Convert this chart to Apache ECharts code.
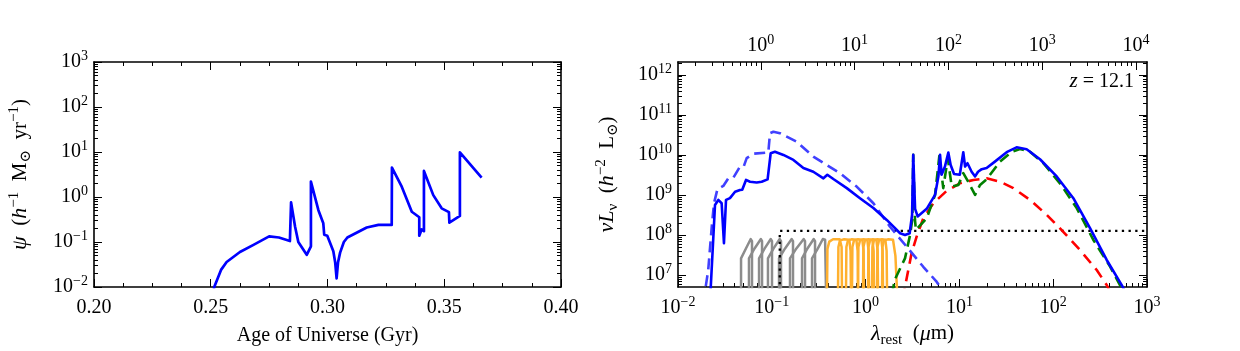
<!DOCTYPE html>
<html><head><meta charset="utf-8">
<script src="https://cdn.jsdelivr.net/npm/echarts@6/dist/echarts.min.js"></script>
<style>html,body{margin:0;padding:0;background:#fff}#c{width:1240px;height:351px}</style>
</head><body><div id="c"></div>
<script>
const FONT = '"Liberation Serif","DejaVu Serif",serif';

// ---------- Left panel: star formation history ----------
const sfrAge = [0.2505,0.2515,0.2544,0.2568,0.2625,0.2681,0.2750,0.2792,0.2839,0.2844,0.2861,0.2875,0.2911,0.2929,0.2929,0.2961,0.2982,0.2986,0.2999,0.3015,0.3025,0.3033,0.3039,0.3045,0.3054,0.3070,0.3085,0.3168,0.3218,0.3275,0.3276,0.3318,0.3361,0.3393,0.3393,0.3403,0.3413,0.3413,0.3453,0.3489,0.3520,0.3522,0.3567,0.3567,0.3660];
const sfrPsi = [0.005,0.010,0.024,0.036,0.060,0.085,0.133,0.126,0.105,0.76,0.22,0.10,0.052,0.080,2.2,0.51,0.26,0.145,0.138,0.085,0.062,0.035,0.0155,0.035,0.058,0.10,0.126,0.21,0.24,0.24,4.5,1.7,0.47,0.355,0.138,0.19,0.174,3.8,1.1,0.56,0.46,0.27,0.38,9.8,2.7];
const ageTicks = [0.20,0.25,0.30,0.35,0.40];
const psiTicks = [0.01,0.1,1,10,100,1000];

// ---------- Right panel: SED (rest wavelength um, nuLnu) ----------
const sedTotal = [[0.0219,2e6],[0.0248,5.6e8],[0.0269,7.5e8],[0.0292,6.2e8],[0.0309,6.2e7],[0.0325,7.5e8],[0.0358,8.3e8],[0.0406,1.2e9],[0.0458,1.33e9],[0.0484,1.35e9],[0.0531,2.37e9],[0.0586,2.14e9],[0.0690,2.04e9],[0.0780,2.14e9],[0.0902,2.45e9],[0.0973,1.1e10],[0.108,1.2e10],[0.133,1.0e10],[0.170,7.5e9],[0.217,4.7e9],[0.277,3.8e9],[0.355,2.6e9],[0.391,3.2e9],[0.453,2.5e9],[0.630,1.48e9],[0.871,8.3e8],[1.21,4.7e8],[1.68,2.37e8],[2.33,1.1e8],[2.63,1.0e8],[2.95,1.1e8],[3.13,3.2e8],[3.22,1.0e10],[3.37,4.5e8],[3.59,2.9e8],[4.48,4.5e8],[5.5,1.0e9],[5.97,2.9e9],[6.22,1.0e10],[6.46,3.2e9],[7.01,5.1e9],[7.62,1.15e10],[8.07,5.6e9],[8.77,3.35e9],[10.1,3.2e9],[11.0,1.17e10],[11.5,5.1e9],[12.2,6.2e9],[13.5,3.8e9],[14.7,2.9e9],[15.8,3.8e9],[17.3,4.4e9],[19.5,4.7e9],[23.9,6.8e9],[31.9,1.17e10],[40.7,1.55e10],[52.1,1.38e10],[72.3,7.8e9],[109,2.9e9],[164,8.3e8],[247,1.48e8],[372,2.37e7],[550,5.1e6],[631,2.5e6]];
const sedIntrinsic = [[0.0186,2e6],[0.0210,1.33e7],[0.0229,1.6e8],[0.0242,6.2e8],[0.0263,1.38e9],[0.0304,1.68e9],[0.0344,2.6e9],[0.0389,2.7e9],[0.0458,5.1e9],[0.0501,5.1e9],[0.0540,8.3e9],[0.0635,1.07e10],[0.0918,1.15e10],[0.0957,3.5e10],[0.104,3.8e10],[0.122,3.5e10],[0.184,2.14e10],[0.277,9.1e9],[0.385,5.6e9],[0.533,3.5e9],[0.803,1.62e9],[1.21,6.2e8],[1.82,1.6e8],[2.74,5.1e7],[4.12,1.6e7],[5.71,6.8e6],[7.08,3.2e6]];
const sedDust = [[1.91,3.2e6],[2.04,7.5e6],[2.63,2.6e7],[2.98,1.0e8],[3.15,2.5e8],[3.22,1.0e10],[3.36,2.37e8],[3.44,1.33e8],[4.48,2.6e8],[5.5,1.0e9],[6.11,9.4e9],[6.73,1.48e9],[7.52,8.3e9],[8.28,1.62e9],[9.75,1.78e9],[11.0,3.5e9],[12.4,2.14e9],[14.7,1.0e9],[16.6,1.78e9],[19.5,2.45e9],[27.1,6.8e9],[36.1,1.2e10],[44.3,1.41e10],[56.6,1.2e10],[78.5,6.2e9],[118,1.95e9],[178,4.7e8],[268,7.5e7],[404,1.62e7],[525,5.1e6],[603,2.5e6]];
const sedWarm = [[2.51,2.5e6],[2.63,5e6],[3.09,3.5e7],[3.50,9.1e7],[4.12,2.6e8],[5.27,6.2e8],[7.31,1.26e9],[10.1,1.95e9],[14.1,2.37e9],[19.5,2.6e9],[27.1,2.14e9],[37.6,1.48e9],[56.6,7.5e8],[85.1,3.2e8],[128,1.2e8],[193,4.2e7],[291,1.33e7],[372,5.6e6],[417,3.2e6]];
const limitLine = [[0.1216,4e6],[0.1216,1.26e8],[1000,1.26e8]];
const grayFilters = [
 [[0.0470,4e6],[0.0470,2.6e7],[0.0530,4.6e7],[0.0596,7.9e7],[0.0615,7.0e7],[0.0615,4e6]],
 [[0.0571,4e6],[0.0571,2.6e7],[0.0655,4.6e7],[0.0765,7.9e7],[0.0787,7.0e7],[0.0787,4e6]],
 [[0.0731,4e6],[0.0731,2.6e7],[0.0840,4.6e7],[0.0975,7.9e7],[0.1005,7.0e7],[0.1005,4e6]],
 [[0.0910,4e6],[0.0910,2.6e7],[0.1045,4.6e7],[0.1215,7.9e7],[0.1253,7.0e7],[0.1253,4e6]],
 [[0.1194,4e6],[0.1194,2.6e7],[0.1385,4.6e7],[0.1630,7.9e7],[0.1683,7.0e7],[0.1683,4e6]],
 [[0.1563,4e6],[0.1563,2.6e7],[0.1830,4.6e7],[0.2190,7.9e7],[0.2260,7.0e7],[0.2260,4e6]],
 [[0.2100,4e6],[0.2100,2.6e7],[0.2400,4.6e7],[0.2800,7.9e7],[0.2890,7.0e7],[0.2890,4e6]],
 [[0.2685,4e6],[0.2685,2.6e7],[0.3100,4.6e7],[0.3500,7.9e7],[0.3700,7.6e7],[0.3786,4e6]]
];
const orangeFilters = [
 [[0.388,4e6],[0.392,4.5e7],[0.410,6.8e7],[0.450,7.8e7],[0.530,7.8e7],[0.555,5e7],[0.560,4e6]],
 [[0.508,4e6],[0.513,5e7],[0.533,7.3e7],[0.590,7.8e7],[0.670,7.6e7],[0.691,4e7],[0.698,4e6]],
 [[0.618,4e6],[0.624,5e7],[0.649,7.3e7],[0.715,7.8e7],[0.797,7.6e7],[0.822,4e7],[0.830,4e6]],
 [[0.716,4e6],[0.723,5e7],[0.752,7.3e7],[0.830,7.8e7],[0.923,7.6e7],[0.952,4e7],[0.962,4e6]],
 [[0.830,4e6],[0.838,5e7],[0.872,7.3e7],[0.950,7.8e7],[1.043,7.6e7],[1.076,4e7],[1.087,4e6]],
 [[0.938,4e6],[0.947,5e7],[0.985,7.3e7],[1.075,7.8e7],[1.180,7.6e7],[1.218,4e7],[1.230,4e6]],
 [[1.062,4e6],[1.073,5e7],[1.115,7.3e7],[1.200,7.8e7],[1.303,7.6e7],[1.343,4e7],[1.357,4e6]],
 [[1.170,4e6],[1.182,5e7],[1.228,7.3e7],[1.340,7.8e7],[1.473,7.6e7],[1.519,4e7],[1.534,4e6]],
 [[1.324,4e6],[1.337,5e7],[1.390,7.3e7],[1.500,7.8e7],[1.624,7.6e7],[1.675,4e7],[1.692,4e6]],
 [[1.497,4e6],[1.512,5e7],[1.572,7.3e7],[1.750,7.8e7],[1.960,7.6e7],[2.080,3e7],[2.163,4e6]]
];
const lamTicks = [0.01,0.1,1,10,100,1000];
const obsTicks = [1,10,100,1000,10000];
const lumTicks = [1e7,1e8,1e9,1e10,1e11,1e12];
const redshift = 12.1;

// ---------- helpers ----------
function minors(lo, hi) {
  const out = [];
  for (let e = -3; e <= 13; e++) for (let m = 2; m <= 9; m++) {
    const v = m * Math.pow(10, e);
    if (v > lo && v < hi) out.push(v);
  }
  return out;
}
function powLabel(v) {
  const e = Math.round(Math.log10(v));
  return '{b|10}{s|' + (e < 0 ? '\u2212' + (-e) : String(e)) + '}';
}
const labRich = {
  b: {fontSize: 20, fontFamily: FONT, lineHeight: 26, color: '#000'},
  s: {fontSize: 14, fontFamily: FONT, lineHeight: 8, verticalAlign: 'top', color: '#000'}
};
const nameRich = {
  r: {fontSize: 21, fontFamily: FONT, lineHeight: 27, color: '#000'},
  i: {fontSize: 22, fontFamily: FONT, fontStyle: 'italic', lineHeight: 27, color: '#000'},
  sup: {fontSize: 15, fontFamily: FONT, lineHeight: 8, verticalAlign: 'top', color: '#000'},
  sub: {fontSize: 15, fontFamily: FONT, lineHeight: 15, verticalAlign: 'bottom', color: '#000'}
};
const zRich = {
  r: {fontSize: 20, fontFamily: FONT, lineHeight: 26, color: '#000'},
  i: {fontSize: 21, fontFamily: FONT, fontStyle: 'italic', lineHeight: 26, color: '#000'}
};
const SPINE = {show: true, onZero: false, lineStyle: {color: '#000', width: 1.6}};
const TICK = {color: '#000', width: 1};
function axis(o) {
  return Object.assign({
    splitLine: {show: false},
    axisLine: {show: false},
    axisLabel: {show: false},
    axisTick: {show: false}
  }, o);
}

const L = {min: 0.2, max: 0.4};
const Ly = {min: 0.01, max: 1000};
const Rx = {min: 0.01, max: 1000};
const Rt = {min: 0.01 * (1 + redshift), max: 1000 * (1 + redshift)};
const Ry = {min: 5e6, max: 2.1e12};

const xAxes = [
  axis({gridIndex: 0, type: 'value', position: 'bottom', min: L.min, max: L.max, interval: 0.05,
    axisLine: SPINE,
    axisTick: {show: true, inside: true, length: 8, lineStyle: TICK},
    minorTick: {show: true, splitNumber: 4, length: 4, lineStyle: TICK},
    axisLabel: {show: true, margin: 8, fontSize: 20, fontFamily: FONT, color: '#000', lineHeight: 26,
      customValues: ageTicks, formatter: v => v.toFixed(2)},
    name: 'Age of Universe (Gyr)', nameLocation: 'middle', nameGap: 34,
    nameTextStyle: {fontSize: 20, fontFamily: FONT, color: '#000'}}),
  axis({gridIndex: 0, type: 'value', position: 'top', min: L.min, max: L.max, interval: 0.05,
    axisLine: SPINE,
    axisTick: {show: true, inside: true, length: 8, lineStyle: TICK},
    minorTick: {show: true, splitNumber: 4, length: 4, lineStyle: TICK}}),
  axis({gridIndex: 1, type: 'log', position: 'bottom', min: Rx.min, max: Rx.max,
    axisLine: SPINE,
    axisTick: {show: true, inside: true, length: 8, lineStyle: TICK, customValues: lamTicks},
    axisLabel: {show: true, margin: 8, customValues: lamTicks, formatter: powLabel, rich: labRich},
    name: '{i|λ}{sub|rest}{r|  (}{i|μ}{r|m)}', nameLocation: 'middle', nameGap: 31,
    nameTextStyle: {rich: nameRich}}),
  axis({gridIndex: 1, type: 'log', position: 'bottom', min: Rx.min, max: Rx.max,
    axisTick: {show: true, inside: true, length: 4, lineStyle: TICK, customValues: minors(Rx.min, Rx.max)}}),
  axis({gridIndex: 1, type: 'log', position: 'top', min: Rt.min, max: Rt.max,
    axisLine: SPINE,
    axisTick: {show: true, inside: true, length: 8, lineStyle: TICK, customValues: obsTicks},
    axisLabel: {show: true, margin: 3, customValues: obsTicks, formatter: powLabel, rich: labRich}}),
  axis({gridIndex: 1, type: 'log', position: 'top', min: Rt.min, max: Rt.max,
    axisTick: {show: true, inside: true, length: 4, lineStyle: TICK, customValues: minors(Rt.min, Rt.max)}})
];

const yAxes = [
  axis({gridIndex: 0, type: 'log', position: 'left', min: Ly.min, max: Ly.max,
    axisLine: SPINE,
    axisTick: {show: true, inside: true, length: 8, lineStyle: TICK, customValues: psiTicks},
    axisLabel: {show: true, margin: 6, customValues: psiTicks, formatter: powLabel, rich: labRich},
    name: '{i|ψ}{r|  (}{i|h}{sup|\u22121}{r|  M}{sub|\u2299}{r|  yr}{sup|\u22121}{r|)}',
    nameLocation: 'middle', nameGap: 60, nameTextStyle: {rich: nameRich}}),
  axis({gridIndex: 0, type: 'log', position: 'left', min: Ly.min, max: Ly.max,
    axisTick: {show: true, inside: true, length: 4, lineStyle: TICK, customValues: minors(Ly.min, Ly.max)}}),
  axis({gridIndex: 0, type: 'log', position: 'right', min: Ly.min, max: Ly.max,
    axisLine: SPINE,
    axisTick: {show: true, inside: true, length: 8, lineStyle: TICK, customValues: psiTicks}}),
  axis({gridIndex: 0, type: 'log', position: 'right', min: Ly.min, max: Ly.max,
    axisTick: {show: true, inside: true, length: 4, lineStyle: TICK, customValues: minors(Ly.min, Ly.max)}}),
  axis({gridIndex: 1, type: 'log', position: 'left', min: Ry.min, max: Ry.max,
    axisLine: SPINE,
    axisTick: {show: true, inside: true, length: 8, lineStyle: TICK, customValues: lumTicks},
    axisLabel: {show: true, margin: 6, customValues: lumTicks, formatter: powLabel, rich: labRich},
    name: '{i|νL}{sub|ν}{r|  (}{i|h}{sup|\u22122}{r|  L}{sub|\u2299}{r|)}',
    nameLocation: 'middle', nameGap: 57, nameTextStyle: {rich: nameRich}}),
  axis({gridIndex: 1, type: 'log', position: 'left', min: Ry.min, max: Ry.max,
    axisTick: {show: true, inside: true, length: 4, lineStyle: TICK, customValues: minors(Ry.min, Ry.max)}}),
  axis({gridIndex: 1, type: 'log', position: 'right', min: Ry.min, max: Ry.max,
    axisLine: SPINE,
    axisTick: {show: true, inside: true, length: 8, lineStyle: TICK, customValues: lumTicks}}),
  axis({gridIndex: 1, type: 'log', position: 'right', min: Ry.min, max: Ry.max,
    axisTick: {show: true, inside: true, length: 4, lineStyle: TICK, customValues: minors(Ry.min, Ry.max)}})
];

function line(data, color, width, type, z, opacity) {
  return {type: 'line', xAxisIndex: 2, yAxisIndex: 4, data: data, showSymbol: false, symbol: 'none',
    animation: false, silent: true, z: z, clip: true,
    lineStyle: {color: color, width: width, type: type || 'solid', opacity: opacity == null ? 1 : opacity, cap: 'butt', join: 'round'}};
}

const series = [];
series.push({type: 'line', xAxisIndex: 0, yAxisIndex: 0, data: sfrAge.map((a, i) => [a, sfrPsi[i]]),
  showSymbol: false, symbol: 'none', animation: false, clip: true, z: 5,
  lineStyle: {color: '#0000ff', width: 2.7, join: 'round'}});
grayFilters.forEach(f => series.push(line(f, '#8c8c8c', 2.5, 'solid', 2, 1)));
orangeFilters.forEach(f => series.push(line(f, '#ffb02e', 2.5, 'solid', 2, 1)));
series.push(line(limitLine, '#000000', 2.3, [2.3, 4.4], 3));
series.push(line(sedWarm, '#ff0000', 2.6, [11, 7], 4));
series.push(line(sedDust, '#007f00', 2.6, [11, 6], 5));
series.push(line(sedIntrinsic, '#4040ff', 2.6, [11, 6], 6));
series.push(line(sedTotal, '#0000ff', 2.6, 'solid', 7));

const chart = echarts.init(document.getElementById('c'), null, {renderer: 'canvas'});
chart.setOption({
  backgroundColor: '#fff',
  animation: false,
  grid: [
    {left: 94, top: 62, width: 467, height: 225, outerBoundsMode: 'none'},
    {left: 678, top: 62, width: 469, height: 225, outerBoundsMode: 'none'}
  ],
  xAxis: xAxes,
  yAxis: yAxes,
  series: series,
  graphic: [{
    type: 'text', right: 106, top: 71,
    style: {text: '{i|z}{r| = ' + redshift.toFixed(1) + '}', rich: zRich}
  }]
});
</script>
</body></html>
